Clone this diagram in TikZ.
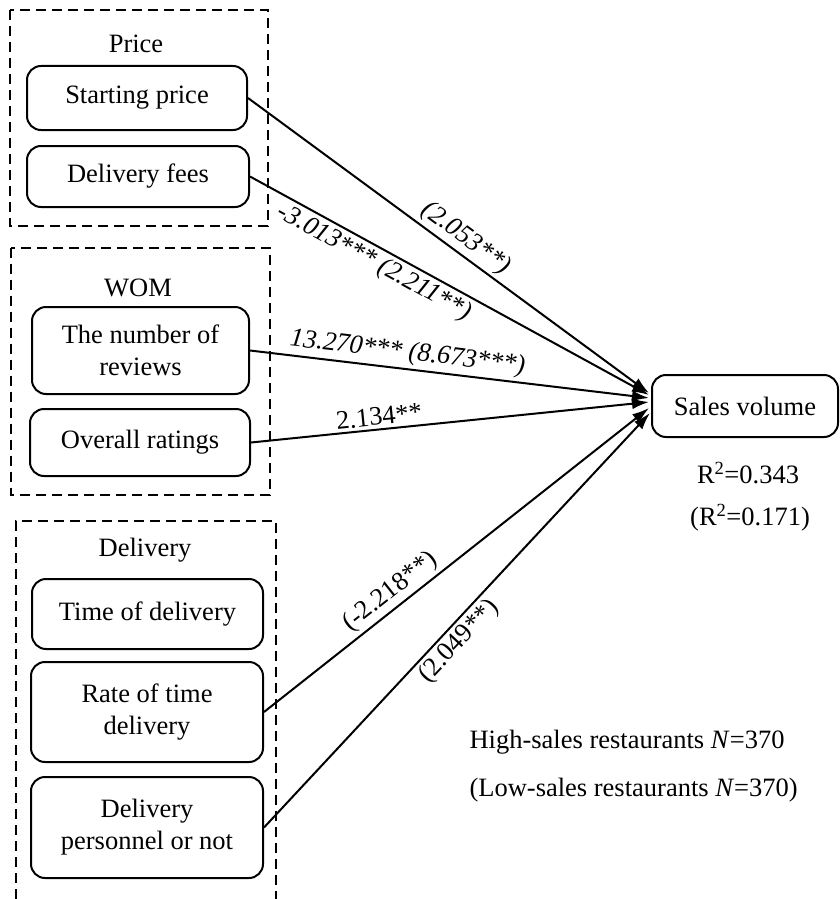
\documentclass[tikz,border=0pt]{standalone}
\usepackage{fontspec}
\setmainfont{Liberation Serif}
\usetikzlibrary{arrows.meta}

\begin{document}
\begin{tikzpicture}[>={Latex[length=17pt,width=11pt]},x=1pt,y=-1pt,
  font=\fontsize{26.5}{32}\selectfont,
  var/.style={draw,line width=2pt,rounded corners=14pt,align=center,inner sep=0pt},
  group/.style={line width=1.8pt,dash pattern=on 10pt off 6pt},
  path/.style={line width=2pt,->},
  coef/.style={sloped,inner sep=3pt},
  skewed/.style={font=\fontsize{26.5}{32}\selectfont\itshape}]
  % Page
  \useasboundingbox (0,0) rectangle (840,899);
  %
  % Groups
  \draw[group] (10,10) rectangle (268,226);
  \draw[group] (11,248) rectangle (270,495);
  \draw[group] (16,899) -- (16,521) -- (276,521) -- (276,899);
  \node (price) at (136,44) {Price};
  \node (wom) at (138,288) {WOM};
  \node (delivery) at (145,550) {Delivery};
  %
  % Variables
  \node[var,minimum width=220,minimum height=64] (start) at (137,98) {Starting price};
  \node[var,minimum width=222,minimum height=61] (fees) at (138,176.5) {Delivery fees};
  \node[var,minimum width=217,minimum height=87] (reviews) at (140.5,350.5) {The number of\\reviews};
  \node[var,minimum width=220,minimum height=67] (ratings) at (140,442.5) {Overall ratings};
  \node[var,minimum width=231,minimum height=70] (time) at (147.5,614) {Time of delivery};
  \node[var,minimum width=232,minimum height=100] (rate) at (147,712) {Rate of time\\delivery};
  \node[var,minimum width=232,minimum height=101] (staff) at (147,827.5) {Delivery\\personnel or not};
  \node[var,minimum width=186,minimum height=62] (sales) at (745,406) {Sales volume};
  %
  % Paths
  \draw[path] (start.east) -- ([xshift=-2pt,yshift=13pt]sales.west)
    node[coef,above,pos=0.52,skewed] {(2.053**)};
  \draw[path] (fees.east) -- ([xshift=-2pt,yshift=11pt]sales.west)
    node[coef,below,pos=0.33,skewed] {-3.013*** (2.211**)};
  \draw[path] (reviews.east) -- ([xshift=-2pt,yshift=8pt]sales.west)
    node[coef,above,pos=0.39,skewed] {13.270*** (8.673***)};
  \draw[path] (ratings.east) -- ([xshift=-2pt,yshift=4pt]sales.west)
    node[coef,above,pos=0.325] {2.134**};
  \draw[path] (rate.east) -- ([xshift=-2pt,yshift=-2pt]sales.west)
    node[coef,above,pos=0.354] {(-2.218**)};
  \draw[path] (staff.east) -- ([xshift=-1pt,yshift=-7pt]sales.west)
    node[coef,below,pos=0.475] {(2.049**)};
  %
  % Fit and samples
  \node (r2high) at (748,473) {R\textsuperscript{2}=0.343};
  \node (r2low) at (750,518) {(R\textsuperscript{2}=0.171)};
  \node[anchor=west] (nhigh) at (466,742) {High-sales restaurants \textit{N}=370};
  \node[anchor=west] (nlow) at (466,790) {(Low-sales restaurants \textit{N}=370)};
  %
\end{tikzpicture}
\end{document}
